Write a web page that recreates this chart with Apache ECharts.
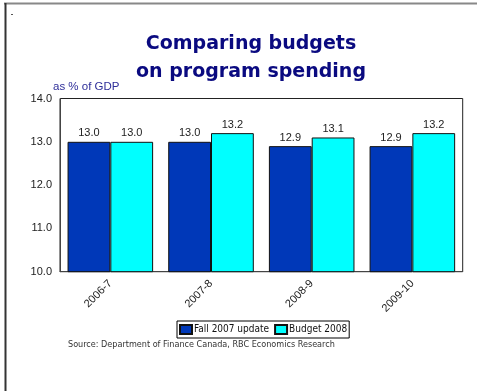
<!DOCTYPE html>
<html><head><meta charset="utf-8">
<script src="https://cdn.jsdelivr.net/npm/echarts@6/dist/echarts.min.js"></script>
<style>html,body{margin:0;padding:0;background:#fff}#c{width:477px;height:391px}</style>
</head><body><div id="c"></div>
<script>
const categories = ['2006-7', '2007-8', '2008-9', '2009-10'];
const fall2007 = [13.0, 13.0, 12.9, 12.9];
const budget2008 = [13.0, 13.2, 13.1, 13.2];
const seriesNames = ['Fall 2007 update', 'Budget 2008'];
const yTicks = [10, 11, 12, 13, 14];

const chart = echarts.init(document.getElementById('c'), null, {renderer: 'canvas'});
const labelStyle = {show: true, position: 'top', distance: 3, color: '#222', fontSize: 11,
  fontFamily: 'Liberation Sans, Arial', formatter: p => p.value.toFixed(1)};
chart.setOption({
  animation: false,
  backgroundColor: '#fff',
  title: {
    text: 'Comparing budgets\non program spending',
    left: 246, top: 25, textAlign: 'center',
    textStyle: {color: '#0a0a80', fontSize: 19, fontWeight: 'bold', fontFamily: 'DejaVu Sans', lineHeight: 28}
  },
  grid: {left: 60, top: 98.5, right: 14.3, bottom: 119.3, show: true, borderColor: '#222', borderWidth: 1},
  legend: {
    left: 177, top: 321, itemWidth: 12, itemHeight: 9, itemGap: 5, icon: 'rect',
    padding: [3, 2], borderColor: '#000', borderWidth: 1, borderRadius: 0,
    textStyle: {fontSize: 10, color: '#111', fontFamily: 'DejaVu Sans Condensed', padding: [0, 0, 0, -3]},
    data: seriesNames
  },
  xAxis: {
    type: 'category', data: categories,
    axisLine: {lineStyle: {color: '#444'}}, axisTick: {show: false},
    axisLabel: {rotate: 45, fontSize: 11, color: '#222', fontFamily: 'Liberation Sans, Arial', margin: 10}
  },
  yAxis: {
    type: 'value', min: yTicks[0], max: yTicks[yTicks.length - 1], interval: 1,
    name: 'as % of GDP', nameLocation: 'end', nameGap: 6,
    nameTextStyle: {color: '#2e2e99', fontSize: 11.5, fontFamily: 'Liberation Sans, Arial', align: 'left', padding: [0, 0, 0, -7]},
    splitLine: {show: false},
    axisLine: {show: true, lineStyle: {color: '#444'}}, axisTick: {show: false},
    axisLabel: {formatter: v => v.toFixed(1), fontSize: 11, color: '#222', fontFamily: 'Liberation Sans, Arial', margin: 8}
  },
  series: [
    {name: seriesNames[0], type: 'bar', data: fall2007, barGap: '0%', barCategoryGap: '15%',
     itemStyle: {color: '#0038b8', borderColor: '#111', borderWidth: 1}, label: labelStyle},
    {name: seriesNames[1], type: 'bar', data: budget2008,
     itemStyle: {color: '#00ffff', borderColor: '#111', borderWidth: 1}, label: labelStyle}
  ],
  graphic: [
    {type: 'line', shape: {x1: 4, y1: 3.5, x2: 477, y2: 3.5}, style: {stroke: '#888', lineWidth: 2}},
    {type: 'line', shape: {x1: 5.5, y1: 3, x2: 5.5, y2: 391}, style: {stroke: '#333', lineWidth: 2}},
    {type: 'rect', shape: {x: 11, y: 14, width: 2, height: 1}, style: {fill: '#555'}},
    {type: 'text', left: 68, top: 340, style: {text: 'Source: Department of Finance Canada, RBC Economics Research',
      fontSize: 9, fill: '#333', fontFamily: 'DejaVu Sans Condensed'}}
  ]
});
</script></body></html>
